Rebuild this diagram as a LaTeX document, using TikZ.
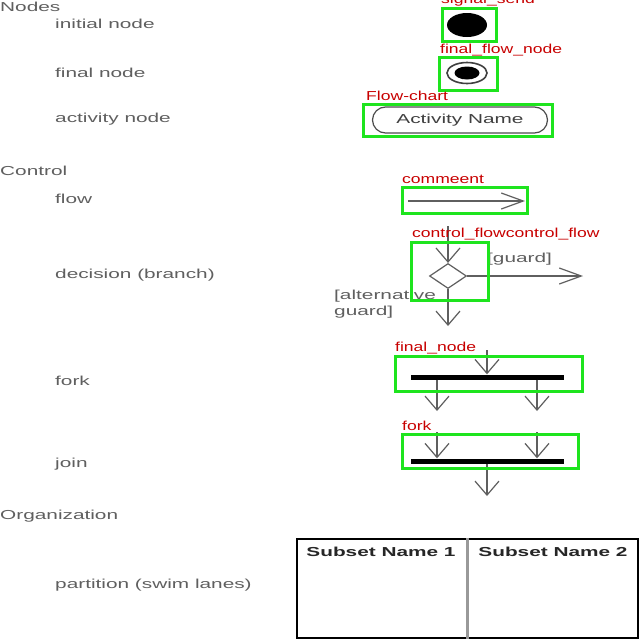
\documentclass[tikz,border=0pt]{standalone}
\usepackage{fontspec}
\setmainfont{Liberation Sans}
\usepackage{tikz}
\usetikzlibrary{arrows.meta,shapes.geometric}

\definecolor{markgreen}{RGB}{30,228,30}
\definecolor{markred}{RGB}{200,0,0}
\definecolor{umlgray}{RGB}{95,95,95}
\newcommand{\wide}[1]{\scalebox{1.6}[1]{#1}}
\newcommand{\mtext}[1]{\scalebox{1.35}[1]{#1}}

\begin{document}
\begin{tikzpicture}[x=1pt,y=-1pt,
  lbl/.style={anchor=west, inner sep=0pt, text=umlgray, font=\fontsize{13}{13}\selectfont},
  markbox/.style={draw=markgreen, line width=3pt},
  marklbl/.style={anchor=base west, inner sep=0pt, text=markred, font=\fontsize{13}{13}\selectfont},
  hflow/.style={draw=umlgray, line width=1.2pt, -{Straight Barb[length=22pt,width=16pt]}},
  vflow/.style={draw=umlgray, line width=1.2pt, -{Straight Barb[length=14pt,width=24pt]}},
  bar/.style={fill=black, inner sep=0pt, minimum width=153pt, minimum height=5pt},
]
\useasboundingbox (0,0) rectangle (640,640);
\fill[white] (0,0) rectangle (640,640);

% left column
\node[lbl] (nodes) at (0,7) {\wide{Nodes}};
\node[lbl] (initlbl) at (55,24) {\wide{initial node}};
\node[lbl] (finallbl) at (55,73) {\wide{final node}};
\node[lbl] (actlbl) at (55,119) {\wide{activity node}};
\node[lbl] (control) at (0,171) {\wide{Control}};
\node[lbl] (flowlbl) at (55,199) {\wide{flow}};
\node[lbl] (declbl) at (55,275) {\wide{decision (branch)}};
\node[lbl] (forklbl) at (55,381) {\wide{fork}};
\node[lbl] (joinlbl) at (55,464) {\wide{join}};
\node[lbl] (organization) at (0,516) {\wide{Organization}};
\node[lbl] (partlbl) at (55,585) {\wide{partition (swim lanes)}};

% nodes
\node[ellipse, fill=black, minimum width=40pt, minimum height=24pt, inner sep=0pt] (initial) at (467,25) {};
\node[ellipse, draw=black!75, line width=1.6pt, minimum width=40pt, minimum height=21pt, inner sep=0pt] (final) at (467,73) {};
\node[ellipse, fill=black, minimum width=25pt, minimum height=13pt, inner sep=0pt] (finaldot) at (final) {};
\node[draw=black!70, line width=1.2pt, rounded corners=13pt, minimum width=175pt, minimum height=26pt,
  inner sep=0pt, text=black!75, font=\fontsize{13}{13}\selectfont] (activity) at (460,120) {\wide{Activity Name}};

% flow
\coordinate (flowstart) at (408,201);
\coordinate (flowend) at (525,201);
\draw[hflow] (flowstart) -- (flowend);

% decision
\node[diamond, draw=umlgray, line width=1.2pt, aspect=1.5, minimum width=37pt, minimum height=25pt, inner sep=0pt] (decision) at (448,276) {};
\coordinate (dectop) at (448,226);
\coordinate (decright) at (583,276);
\coordinate (decdown) at (448,326);
\draw[vflow] (dectop) -- (decision.north);
\draw[hflow] (decision.east) -- (decright);
\draw[vflow] (decision.south) -- (decdown);
\node[lbl] (guard) at (487,259) {\wide{[guard]}};
\node[lbl, align=left, font=\fontsize{13}{16}\selectfont] (altguard) at (334,304) {\wide{[alternative}\\\wide{guard]}};

% fork
\node[bar] (forkbar) at (487,377) {};
\coordinate (forkin) at (487,350);
\coordinate (forkleft) at (437,411);
\coordinate (forkright) at (537,411);
\draw[vflow] (forkin) -- (forkbar.north);
\draw[vflow] (forkbar.south -| forkleft) -- (forkleft);
\draw[vflow] (forkbar.south -| forkright) -- (forkright);

% join
\node[bar] (joinbar) at (487,461) {};
\coordinate (joinleft) at (437,432);
\coordinate (joinright) at (537,432);
\coordinate (joinout) at (487,496);
\draw[vflow] (joinleft) -- (joinleft |- joinbar.north);
\draw[vflow] (joinright) -- (joinright |- joinbar.north);
\draw[vflow] (joinbar.south) -- (joinout);

% partition
\node[draw=black, line width=2.5pt, minimum width=341pt, minimum height=99pt, inner sep=0pt] (partition) at (467.5,588.5) {};
\draw[black!40, line width=3pt] (partition.north) -- (partition.south);
\node[text=black!85, font=\fontsize{13}{13}\selectfont\bfseries, inner sep=0pt] (lane1) at (381,552) {\wide{Subset Name 1}};
\node[text=black!85, font=\fontsize{13}{13}\selectfont\bfseries, inner sep=0pt] (lane2) at (553,552) {\wide{Subset Name 2}};

% marks
\draw[markbox] (442,8) rectangle (496,41);
\draw[markbox] (439,57) rectangle (497,90);
\draw[markbox] (363,104) rectangle (552,136);
\draw[markbox] (402,187) rectangle (527,213);
\draw[markbox] (411,242) rectangle (488,300);
\draw[markbox] (395,356) rectangle (582,391);
\draw[markbox] (402,434) rectangle (578,468);
\node[marklbl] (marksend) at (441,3) {\mtext{signal\_send}};
\node[marklbl] (markfinal) at (440,53) {\mtext{final\_flow\_node}};
\node[marklbl] (markchart) at (366,100) {\mtext{Flow-chart}};
\node[marklbl] (markcomment) at (402,183) {\mtext{commeent}};
\node[marklbl] (markcontrol) at (412,237) {\mtext{control\_flowcontrol\_flow}};
\node[marklbl] (markfnode) at (395,351) {\mtext{final\_node}};
\node[marklbl] (markfork) at (402,430) {\mtext{fork}};
\end{tikzpicture}
\end{document}
